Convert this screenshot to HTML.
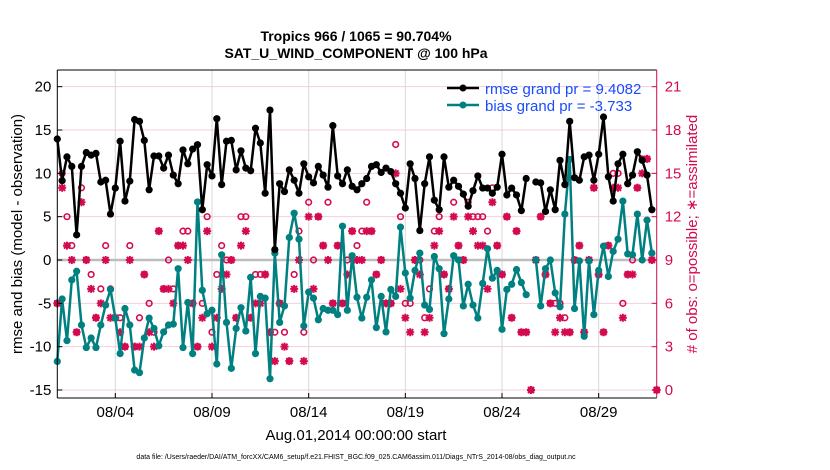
<!DOCTYPE html>
<html><head><meta charset="utf-8"><style>
body{margin:0;background:#fff}
svg{display:block;font-family:"Liberation Sans",sans-serif}
</style></head><body>
<svg id="chart" width="830" height="470" viewBox="0 0 830 470">
<text x="356" y="41" text-anchor="middle" font-size="14" font-weight="bold">Tropics 966 / 1065 = 90.704%</text>
<text x="356" y="58" text-anchor="middle" font-size="14" font-weight="bold">SAT_U_WIND_COMPONENT @ 100 hPa</text>
<g id="grid"></g>
<g id="marks"></g>
<g id="axes"></g>
<text transform="translate(22,234) rotate(-90)" text-anchor="middle" font-size="15">rmse and bias (model - observation)</text>
<text transform="translate(697,234) rotate(-90)" text-anchor="middle" font-size="15" fill="#d40a50"># of obs: o=possible; ∗=assimilated</text>
<text x="356" y="440" text-anchor="middle" font-size="15">Aug.01,2014 00:00:00 start</text>
<text x="356" y="459" text-anchor="middle" font-size="7">data file: /Users/raeder/DAI/ATM_forcXX/CAM6_setup/f.e21.FHIST_BGC.f09_025.CAM6assim.011/Diags_NTrS_2014-08/obs_diag_output.nc</text>
<g>
<line x1="447" y1="88" x2="479" y2="88" stroke="#000" stroke-width="2.5"/>
<circle cx="463" cy="88" r="3.5" fill="#000"/>
<text x="485" y="94" font-size="15" fill="#1a4cff">rmse grand pr = 9.4082</text>
<line x1="447" y1="105" x2="479" y2="105" stroke="#008080" stroke-width="2.5"/>
<circle cx="463" cy="105" r="3.5" fill="#008080"/>
<text x="485" y="111" font-size="15" fill="#1a4cff">bias grand pr = -3.733</text>
</g>
</svg>
<script>
const rmse=[13.96,9.15,11.9,10.8,2.9,10.8,12.4,12.1,12.3,9.0,9.2,5.3,8.3,13.7,6.8,9.1,16.2,16.0,13.8,8.1,12.0,12.0,10.6,12.1,9.8,8.8,12.7,11.1,12.8,13.3,5.8,11.0,9.7,16.3,8.7,13.7,13.8,10.4,12.6,10.6,10.3,15.2,
13.5,7.7,17.3,1.2,8.8,7.9,10.4,9.2,7.7,11.1,9.6,8.9,10.8,9.8,8.4,15.5,9.7,8.8,10.4,8.5,8.1,8.8,9.4,10.8,11.0,10.1,10.6,10.2,8.8,7.7,6.0,11.1,9.4,3.4,8.8,11.9,6.9,5.8,11.9,8.4,9.2,8.5,
7.6,6.2,8.0,9.7,8.3,8.3,7.7,8.4,12.2,7.5,8.3,7.5,5.7,9.4,null,
9.0,8.9,5.6,8.1,5.8,11.5,8.7,16.0,9.5,9.2,11.9,12.1,9.2,12.2,16.5,9.6,6.8,11.1,12.2,8.8,9.8,12.5,11.5,9.8,5.8];
const bias=[-11.7,-4.5,-9.3,-2.3,-1.3,-7.5,-10.1,-9.0,-10.1,-7.5,-5.2,-3.4,-6.7,-10.8,-5.6,-7.5,-12.7,-13.0,-9.0,-6.7,-7.9,-9.9,-8.3,-7.5,-7.4,-1.0,-10.1,-4.9,-10.8,6.7,-3.5,-6.2,-5.8,-12.0,0.6,-7.2,-12.5,-7.9,-5.5,-8.2,-2.0,-10.8,
-4.2,-4.4,-13.7,0.8,-7.2,-5.3,2.6,5.4,2.4,-7.6,-3.7,-4.4,-6.9,-5.6,-5.8,-5.8,-6.3,3.9,-5.8,0.5,-4.3,-6.7,-4.3,-2.3,-7.8,-4.2,-8.3,-3.4,-4.2,3.8,-1.5,-4.4,-1.2,0.8,-5.2,-5.7,0.4,-1.0,-8.5,-4.5,0.5,0,
-5.3,-2.8,-5.2,-6.7,-2.7,1.3,-2.1,-1.2,-8.0,-3.4,-2.8,-1.1,-2.6,-4.0,null,
0,-5.3,-1,0,-3.8,-5.4,5.3,11.6,-5.6,-0.1,-8.8,-0.1,-6.3,-1.2,1.6,-1.9,1.0,2.4,6.8,0.7,0.6,5.3,0,4.6,0.8];
const assimilated=[6,14,10,9,4,13,9,7,5,6,9,5,5,4,3,9,3,3,8,4,3,11,7,7,6,10,10,9,6,3,5,11,3,5,7,8,9,5,10,11,5,6,
6,8,4,2,6,3,2,7,9,2,12,7,12,10,9,6,10,6,8,11,9,9,11,11,8,9,6,6,15,7,5,4,9,8,4,5,10,11,8,7,12,10,
9,12,11,10,10,7,13,10,8,12,5,11,4,4,0,9,12,8,6,4,5,4,4,9,10,4,9,14,8,4,10,14,14,5,8,8,14,15,16,9,0];
const possible=[6,15,12,10,4,14,9,8,5,7,10,7,5,5,3,10,3,5,8,6,4,11,7,9,7,10,11,11,6,3,6,12,4,8,10,9,9,5,12,12,5,8,
8,8,4,4,6,4,2,8,11,4,13,9,12,10,13,6,10,6,9,11,10,11,13,11,8,9,6,6,17,12,6,6,9,9,5,7,11,12,8,7,13,10,
9,13,12,12,12,11,14,10,8,12,5,11,4,4,0,9,12,8,6,6,6,5,4,9,10,4,9,14,8,4,10,15,15,6,8,9,14,16,16,9,0];
const leftTicks=[20,15,10,5,0,-5,-10,-15];
const rightTicks=[0,3,6,9,12,15,18,21];
const xTickDays=[3,8,13,18,23,28];
const xTickLabels=["08/04","08/09","08/14","08/19","08/24","08/29"];

const NS="http://www.w3.org/2000/svg";
const L=57.3,R=656.7,T=70,B=398;
const dayW=(R-L)/31;
const X=i=>L+i*dayW/4;           // 6-hourly index
const XD=d=>L+d*dayW;
const Y=v=>260-v*8.667;          // left axis
const YR=v=>390-v*(303.3/21);    // right axis
function mk(tag,attrs,parent){const e=document.createElementNS(NS,tag);for(const k in attrs)e.setAttribute(k,attrs[k]);parent.appendChild(e);return e;}
const grid=document.getElementById('grid'),marks=document.getElementById('marks'),axes=document.getElementById('axes');

leftTicks.forEach(v=>{
  const g=mk('line',{x1:L,x2:R,y1:Y(v),y2:Y(v),stroke:'#f3cfe0','stroke-width':1},grid);
  
  
  const t=mk('text',{x:L-6,y:Y(v)+5,'text-anchor':'end','font-size':15},axes);t.textContent=v;
  
  
  mk('line',{x1:L,x2:L+5,y1:Y(v),y2:Y(v),stroke:'#000'},axes);
});
xTickDays.forEach((d,k)=>{
  const g=mk('line',{x1:XD(d),x2:XD(d),y1:T,y2:B,stroke:'#d9d9d9','stroke-width':1},grid);
  
  
  const t=mk('text',{x:XD(d),y:B+19,'text-anchor':'middle','font-size':15},axes);t.textContent=xTickLabels[k];
  
  
  mk('line',{x1:XD(d),x2:XD(d),y1:B,y2:B-5,stroke:'#000'},axes);
});
rightTicks.forEach(v=>{
  const t=mk('text',{x:R+8,y:YR(v)+5,'font-size':15,fill:'#d40a50'},axes);t.textContent=v;
  
  
  mk('line',{x1:R-5,x2:R,y1:YR(v),y2:YR(v),stroke:'#d40a50'},axes);
});
const zl=mk('line',{x1:L,x2:R,y1:Y(0),y2:Y(0),stroke:'#bdbdbd','stroke-width':2.5},grid);



// obs markers
possible.forEach((v,i)=>{
  const c=mk('circle',{cx:X(i),cy:YR(v),r:2.8,fill:'none',stroke:'#d40a50','stroke-width':1.6},marks);
  
  
});
assimilated.forEach((v,i)=>{
  const x=X(i),y=YR(v),s=4;
  const g=mk('path',{d:`M${x-s},${y}H${x+s}M${x},${y-s}V${y+s}M${x-3},${y-3}L${x+3},${y+3}M${x-3},${y+3}L${x+3},${y-3}`,stroke:'#d40a50','stroke-width':2},marks);
  
  
});

function series(vals,color,name){
  let d='',pen=false;
  vals.forEach((v,i)=>{ if(v===null){pen=false;return;} d+=(pen?'L':'M')+X(i).toFixed(1)+','+Y(v).toFixed(1); pen=true; });
  const p=mk('path',{d:d,fill:'none',stroke:color,'stroke-width':2.5,'stroke-linejoin':'round'},marks);
  
  
  vals.forEach((v,i)=>{ if(v===null)return;
    const c=mk('circle',{cx:X(i),cy:Y(v),r:3.6,fill:color},marks);
    
    
  });
}
series(bias,'#008080','bias');
series(rmse,'#000000','rmse');

mk('line',{x1:L,x2:L,y1:T,y2:B,stroke:'#000','stroke-width':1},axes);
mk('line',{x1:L,x2:R,y1:B,y2:B,stroke:'#000','stroke-width':1},axes);
mk('line',{x1:L,x2:R,y1:T,y2:T,stroke:'#000','stroke-width':1},axes);
mk('line',{x1:R,x2:R,y1:T,y2:B,stroke:'#d40a50','stroke-width':1},axes);
</script>
</body></html>
